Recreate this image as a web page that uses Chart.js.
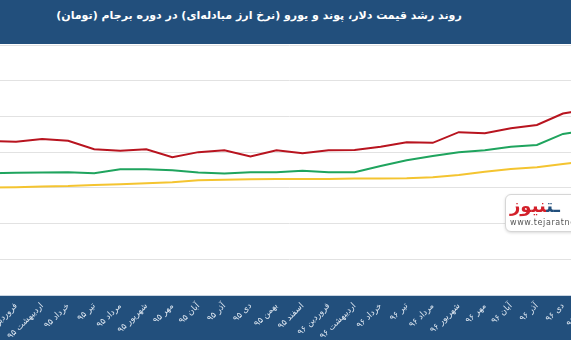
<!DOCTYPE html>
<html>
<head>
<meta charset="utf-8">
<script src="https://cdn.jsdelivr.net/npm/chart.js@4.4.1/dist/chart.umd.min.js"></script>
<style>
  body { margin: 0; width: 571px; height: 340px; overflow: hidden; background: #fff; position: relative; }
  #head {
    position: absolute; left: 0; top: 0; width: 571px; height: 44px; background: #224f7c;
  }
  #head div {
    width: 518px; color: #fff; direction: rtl; text-align: center;
    font: bold 11px "DejaVu Sans", sans-serif; line-height: 31px;
  }
  #wrap { position: absolute; left: -40px; top: 40px; width: 651px; height: 300px; }
  #logo {
    position: absolute; left: 505px; top: 194px; width: 110px; height: 36px;
    background: #fff; border: 1px solid #d6d6d6; border-radius: 6px;
    box-shadow: 0 1px 3px rgba(0,0,0,0.15); overflow: hidden;
  }
  #logo .name { position: absolute; left: 4px; top: 0px; font: bold 18px "DejaVu Sans", sans-serif; color: #d3202a; direction: ltr; }
  #logo .name b { color: #224f7c; }
  #logo .url { position: absolute; left: 4px; top: 23px; font: 8px "DejaVu Sans", sans-serif; color: #555; letter-spacing: 0.6px; }
</style>
</head>
<body>
<div id="head"><div>روند رشد قیمت دلار، پوند و یورو (نرخ ارز مبادله‌ای) در دوره برجام (تومان)</div></div>
<div id="wrap"><canvas id="myChart"></canvas></div>
<div id="logo"><span class="name"><b>ـت</b>نیوز</span><span class="url">www.tejaratnews.com</span></div>
<script>
var months = ['اسفند ۹۴', 'فروردین ۹۵', 'اردیبهشت ۹۵', 'خرداد ۹۵', 'تیر ۹۵', 'مرداد ۹۵', 'شهریور ۹۵',
  'مهر ۹۵', 'آبان ۹۵', 'آذر ۹۵', 'دی ۹۵', 'بهمن ۹۵', 'اسفند ۹۵', 'فروردین ۹۶', 'اردیبهشت ۹۶',
  'خرداد ۹۶', 'تیر ۹۶', 'مرداد ۹۶', 'شهریور ۹۶', 'مهر ۹۶', 'آبان ۹۶', 'آذر ۹۶', 'دی ۹۶', 'بهمن ۹۶'];
// toman
var pound = [4310, 4290, 4370, 4320, 4080, 4040, 4080, 3860, 4000, 4050, 3880, 4050, 3970, 4050,
  4060, 4150, 4280, 4260, 4560, 4530, 4670, 4760, 5080, 5200];
var euro = [3410, 3420, 3430, 3440, 3410, 3520, 3520, 3490, 3430, 3400, 3440, 3440, 3480, 3440,
  3440, 3610, 3770, 3890, 4000, 4050, 4150, 4200, 4510, 4620];
var dollar = [3010, 3020, 3040, 3050, 3080, 3100, 3130, 3160, 3210, 3230, 3240, 3250, 3250, 3250,
  3260, 3260, 3270, 3300, 3360, 3450, 3530, 3580, 3670, 3750];
var yTicks = [0, 1000, 2000, 3000, 4000, 5000, 6000, 7000];

// dark strip behind the month labels
var axisBand = {
  id: 'axisBand',
  beforeDraw: function (chart) {
    var c = chart.ctx, a = chart.chartArea;
    c.save();
    c.fillStyle = '#224f7c';
    c.fillRect(0, a.bottom, chart.width, chart.height - a.bottom);
    c.restore();
  }
};

var ctx = document.getElementById('myChart');
var chart = new Chart(ctx, {
  type: 'line',
  data: {
    labels: months,
    datasets: [
      { label: 'پوند', data: pound, borderColor: '#b8141f', borderWidth: 2, pointRadius: 0, tension: 0, fill: false },
      { label: 'یورو', data: euro, borderColor: '#1fa45e', borderWidth: 2, pointRadius: 0, tension: 0, fill: false },
      { label: 'دلار', data: dollar, borderColor: '#f4c430', borderWidth: 2, pointRadius: 0, tension: 0, fill: false }
    ]
  },
  options: {
    responsive: true,
    maintainAspectRatio: false,
    animation: false,
    layout: { padding: { left: 30, right: 22, top: 5, bottom: 0 } },
    scales: {
      x: {
        offset: false,
        grid: { display: false },
        border: { display: true, color: '#c9d5e2', width: 1 },
        ticks: {
          color: '#dfe8f2', font: { family: 'DejaVu Sans', size: 8.5 },
          minRotation: 45, maxRotation: 45, padding: -2, autoSkip: false
        },
        afterFit: function (s) { s.paddingLeft = 0; s.paddingRight = 0; s.height = 45; }
      },
      y: {
        min: 0, max: 7000,
        afterBuildTicks: function (s) { s.ticks = yTicks.map(function (v) { return { value: v }; }); },
        grid: { color: '#e2e2e2', drawTicks: false },
        border: { display: false },
        ticks: { display: false },
        afterFit: function (s) { s.width = 0; }
      }
    },
    plugins: {
      legend: { display: false },
      tooltip: { enabled: false }
    }
  },
  plugins: [axisBand]
});
</script>
</body>
</html>
